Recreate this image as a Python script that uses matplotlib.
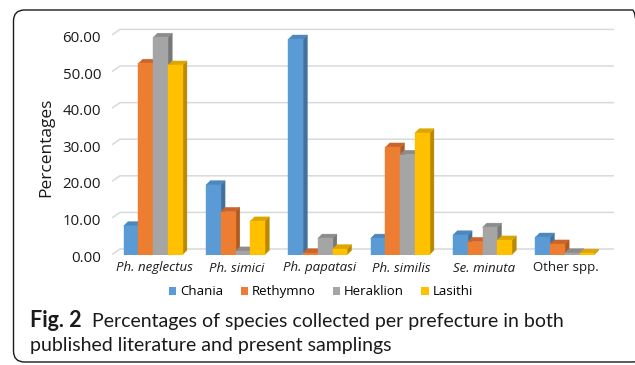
import matplotlib
matplotlib.use("Agg")
import matplotlib.pyplot as plt
from matplotlib.patches import Polygon, FancyBboxPatch, Patch
from matplotlib.transforms import IdentityTransform, offset_copy
import numpy as np

# ---- data -------------------------------------------------------------
species = ["Ph. neglectus", "Ph. simici", "Ph. papatasi", "Ph. similis",
           "Se. minuta", "Other spp."]
species_italic = [True, True, True, True, True, False]
prefectures = ["Chania", "Rethymno", "Heraklion", "Lasithi"]
chania = [7.8, 19.0, 58.8, 4.4, 5.3, 4.7]
rethymno = [52.2, 11.7, 0.4, 29.3, 3.5, 2.8]
heraklion = [59.3, 0.9, 4.4, 27.3, 7.4, 0.4]
lasithi = [51.7, 9.1, 1.5, 33.2, 3.9, 0.3]
y_ticks = [0, 10, 20, 30, 40, 50, 60]

series = [chania, rethymno, heraklion, lasithi]
front_colors = ["#5B9BD5", "#ED7D31", "#A5A5A5", "#FFC000"]
side_colors = ["#41719C", "#AE5A21", "#787878", "#B98A00"]
top_colors = ["#4C87BE", "#C9652A", "#8C8C8C", "#DCA500"]

plt.rcParams["font.family"] = ["Open Sans", "DejaVu Sans"]

W, H = 635, 365
fig = plt.figure(figsize=(W / 100, H / 100), dpi=100)

# rounded frame around chart and caption
frame = FancyBboxPatch((13.5, 3), 630, 352,
                       boxstyle="round,pad=0,rounding_size=11",
                       transform=IdentityTransform(), facecolor="none",
                       edgecolor="#1a1a1a", linewidth=1.0, zorder=-1)
fig.patches.append(frame)

# front plane of the plot, in pixels from the top of the figure
left_px, right_px = 112, 606
base_px, top_px = 254.5, 27.6
ax = fig.add_axes([left_px / W, (H - base_px) / H,
                   (right_px - left_px) / W, (base_px - top_px) / H])
ax.set_xlim(-0.5, len(species) - 0.5)
ax.set_ylim(0, 62)
ax.axis("off")
fig.canvas.draw()


def px_to_data(dx, dy):
    p0 = ax.transData.transform((0, 0))
    q = ax.transData.inverted().transform(p0 + np.array([dx, dy]))
    return q[0], q[1]


wall_dx, wall_dy = px_to_data(8, 5.5)
depth_dx, depth_dy = px_to_data(4.3, 4.3)

# back-wall gridlines with the slanted side-wall segment
x_lo, x_hi = ax.get_xlim()
for v in y_ticks:
    ax.plot([x_lo, x_lo + wall_dx, x_hi + wall_dx],
            [v, v + wall_dy, v + wall_dy],
            color="#D9D9D9", lw=1.1, zorder=1, clip_on=False,
            solid_capstyle="butt")

# pseudo-3D columns
n = len(series)
bar_w = 0.179
xs = np.arange(len(species))
for k, vals in enumerate(series):
    lefts = xs + (k - n / 2) * bar_w
    ax.bar(lefts, vals, width=bar_w, align="edge", color=front_colors[k],
           edgecolor=front_colors[k], linewidth=0.3, zorder=3 + 2 * k)
    for x0, v in zip(lefts, vals):
        x1 = x0 + bar_w
        side = Polygon([(x1, 0), (x1 + depth_dx, depth_dy),
                        (x1 + depth_dx, v + depth_dy), (x1, v)],
                       closed=True, facecolor=side_colors[k],
                       edgecolor=side_colors[k], linewidth=0.3,
                       zorder=2 + 2 * k, clip_on=False)
        top = Polygon([(x0, v), (x1, v), (x1 + depth_dx, v + depth_dy),
                       (x0 + depth_dx, v + depth_dy)],
                      closed=True, facecolor=top_colors[k],
                      edgecolor=top_colors[k], linewidth=0.3,
                      zorder=2 + 2 * k, clip_on=False)
        ax.add_patch(side)
        ax.add_patch(top)

# value axis labels
tick_tr = offset_copy(ax.transData, fig, x=-11, y=-3.5, units="dots")
for v in y_ticks:
    ax.text(x_lo, v, f"{v:.2f}", transform=tick_tr, ha="right", va="center",
            fontsize=10.8, color="#1a1a1a", clip_on=False)

fig.text(46 / W, 1 - 147.5 / H, "Percentages", rotation=90, ha="center",
         va="center", fontsize=12.5, color="#1a1a1a")

# category labels
cat_tr = offset_copy(ax.transData, fig, x=1.5, y=-13.5, units="dots")
for x, name, it in zip(xs, species, species_italic):
    ax.text(x, 0, name, transform=cat_tr, ha="center", va="center",
            fontsize=9.5, style="italic" if it else "normal",
            color="#1a1a1a", clip_on=False)

# legend
handles = [Patch(facecolor=c, edgecolor="none") for c in front_colors]
fig.legend(handles, prefectures, ncol=4, loc="center",
           bbox_to_anchor=(321 / W, 1 - 291.7 / H), frameon=False,
           fontsize=9.5, handlelength=0.55, handleheight=0.55,
           handletextpad=0.3, columnspacing=1.3, borderpad=0)

# caption
cap_font = ["Lato", "DejaVu Sans"]
fig.text(30.5 / W, 1 - 326.7 / H, "Fig. 2", fontsize=15.5, fontweight="bold",
         family=cap_font, ha="left", va="baseline", color="#1a1a1a")
fig.text(91.7 / W, 1 - 326.7 / H,
         "Percentages of species collected per prefecture in both",
         fontsize=14, family=cap_font, ha="left", va="baseline",
         color="#1a1a1a")
fig.text(30.5 / W, 1 - 350.5 / H,
         "published literature and present samplings",
         fontsize=14, family=cap_font, ha="left", va="baseline",
         color="#1a1a1a")

fig.savefig("out.png", dpi=100)
